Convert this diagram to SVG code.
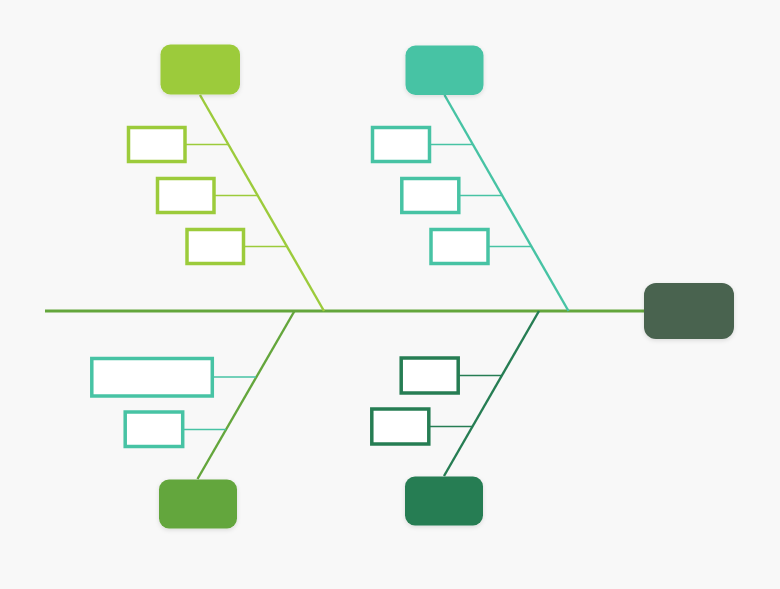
<svg xmlns="http://www.w3.org/2000/svg" width="780" height="589" viewBox="0 0 780 589">
<defs>
<filter id="sh" x="-20%" y="-20%" width="140%" height="150%">
<feDropShadow dx="0" dy="1.5" stdDeviation="2" flood-color="#000" flood-opacity="0.12"/>
</filter>
<style>
.bg{fill:#f8f8f8}
.node{filter:url(#sh)}
.box{fill:#ffffff;stroke-width:3.5}
.ln{fill:none;stroke-linecap:butt}
.lime{stroke:#9ccb3b}
.teal{stroke:#47c3a4}
.leaf{stroke:#64a63c}
.dark{stroke:#267d53}
</style>
</defs>
<rect class="bg" x="0" y="0" width="780" height="589"/>
<g id="connectors">
<line class="ln leaf" x1="45" y1="311" x2="645" y2="311" stroke-width="2.8"/>
<line class="ln lime" x1="200" y1="95" x2="324" y2="311" stroke-width="2.4"/>
<line class="ln lime" x1="186" y1="144.5" x2="228" y2="144.5" stroke-width="1.3"/>
<line class="ln lime" x1="215" y1="195.5" x2="257" y2="195.5" stroke-width="1.3"/>
<line class="ln lime" x1="244" y1="246.5" x2="286.5" y2="246.5" stroke-width="1.3"/>
<line class="ln teal" x1="444.5" y1="95" x2="568.5" y2="311" stroke-width="2.4"/>
<line class="ln teal" x1="431" y1="144.5" x2="473" y2="144.5" stroke-width="1.3"/>
<line class="ln teal" x1="460" y1="195.5" x2="502" y2="195.5" stroke-width="1.3"/>
<line class="ln teal" x1="489" y1="246.5" x2="531" y2="246.5" stroke-width="1.3"/>
<line class="ln leaf" x1="294.5" y1="311" x2="197.5" y2="479" stroke-width="2.4"/>
<line class="ln teal" x1="213" y1="377" x2="256" y2="377" stroke-width="1.3"/>
<line class="ln teal" x1="184" y1="429.5" x2="226" y2="429.5" stroke-width="1.3"/>
<line class="ln dark" x1="539" y1="311" x2="444" y2="476" stroke-width="2.4"/>
<line class="ln dark" x1="459" y1="375.5" x2="502" y2="375.5" stroke-width="1.3"/>
<line class="ln dark" x1="430" y1="426.5" x2="472" y2="426.5" stroke-width="1.3"/>
</g>
<g id="head"><rect class="node" x="644" y="283" width="90" height="56" rx="12" fill="#4a6350"/></g>
<g id="cat1"><rect class="node" x="160.5" y="44.5" width="79.5" height="50" rx="10" fill="#9ccb3b"/></g>
<g id="cat2"><rect class="node" x="405.5" y="45.5" width="78" height="49.5" rx="10" fill="#47c3a4"/></g>
<g id="cat3"><rect class="node" x="159" y="479.5" width="78" height="49" rx="10" fill="#64a63c"/></g>
<g id="cat4"><rect class="node" x="405" y="476.5" width="78" height="49" rx="10" fill="#267d53"/></g>
<g id="c1a"><rect class="box lime" x="128.5" y="127.5" width="56.5" height="34"/></g>
<g id="c1b"><rect class="box lime" x="157.5" y="178.5" width="56.5" height="34"/></g>
<g id="c1c"><rect class="box lime" x="187" y="229.5" width="56.5" height="34"/></g>
<g id="c2a"><rect class="box teal" x="372.5" y="127.5" width="57" height="34"/></g>
<g id="c2b"><rect class="box teal" x="401.8" y="178.5" width="57" height="34"/></g>
<g id="c2c"><rect class="box teal" x="431" y="229.5" width="57" height="34"/></g>
<g id="c3a"><rect class="box teal" x="91.8" y="358.5" width="120.5" height="37.5"/></g>
<g id="c3b"><rect class="box teal" x="125.2" y="412" width="57.5" height="34.5"/></g>
<g id="c4a"><rect class="box dark" x="401.2" y="358" width="57" height="35"/></g>
<g id="c4b"><rect class="box dark" x="371.8" y="409" width="57" height="35"/></g>
</svg>
